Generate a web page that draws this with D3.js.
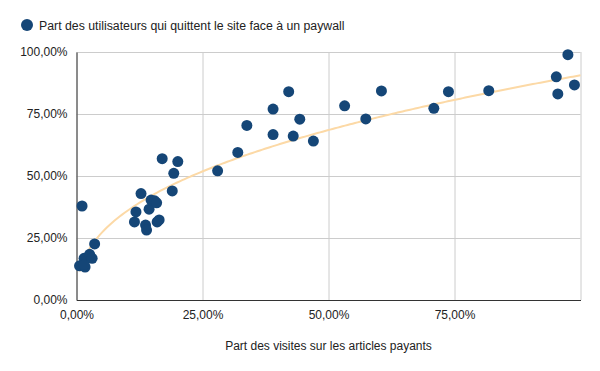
<!DOCTYPE html>
<html>
<head>
<meta charset="utf-8">
<script src="https://cdnjs.cloudflare.com/ajax/libs/d3/7.8.5/d3.min.js"></script>
<style>
  body { margin: 0; background: #fff; }
  svg { display: block; font-family: Arial, "Liberation Sans", sans-serif; }
</style>
</head>
<body>
<svg id="chart"></svg>
<script>
// part des visites sur les articles payants (x) / part des utilisateurs qui quittent (y)
var visitShare = [0.011, 0.006, 0.015, 0.017, 0.015, 0.026, 0.031, 0.036,
  0.115, 0.118, 0.128, 0.137, 0.139, 0.144, 0.148, 0.155, 0.159, 0.160, 0.164,
  0.170, 0.190, 0.193, 0.201, 0.280, 0.320, 0.338, 0.390, 0.390, 0.421, 0.430,
  0.443, 0.470, 0.532, 0.574, 0.605, 0.709, 0.738, 0.818, 0.952, 0.955, 0.975, 0.988];
var leaveShare = [0.379, 0.138, 0.168, 0.133, 0.143, 0.184, 0.168, 0.226,
  0.315, 0.355, 0.429, 0.302, 0.282, 0.366, 0.403, 0.400, 0.392, 0.315, 0.323,
  0.570, 0.440, 0.511, 0.558, 0.521, 0.595, 0.704, 0.770, 0.667, 0.840, 0.661,
  0.729, 0.641, 0.783, 0.730, 0.843, 0.773, 0.840, 0.844, 0.900, 0.831, 0.989, 0.867];
var xTicks = [0, 0.25, 0.5, 0.75];
var yTicks = [0, 0.25, 0.5, 0.75, 1];
var seriesName = 'Part des utilisateurs qui quittent le site face à un paywall';
var xTitle = 'Part des visites sur les articles payants';

var width = 600, height = 371;
var margin = {top: 52, right: 19.5, bottom: 71, left: 76.5};
var pointColor = '#154677';
var trendColor = '#fcd9a6';

var fr = d3.formatLocale({decimal: ',', thousands: '\u00a0', grouping: [3], currency: ['', ' €']});
var pct = fr.format('.2%');

var svg = d3.select('#chart')
  .attr('width', width)
  .attr('height', height);

var x = d3.scaleLinear().domain([0, 1]).range([margin.left, width - margin.right]);
var y = d3.scaleLinear().domain([0, 1]).range([height - margin.bottom, margin.top]);

// grid
svg.append('g')
  .attr('transform', 'translate(0,' + (height - margin.bottom) + ')')
  .call(d3.axisBottom(x).tickValues(xTicks.concat([1])).tickSize(-(height - margin.top - margin.bottom)).tickFormat(''))
  .call(function(g) {
    g.select('.domain').remove();
    g.selectAll('line').attr('stroke', '#cccccc');
  });
svg.append('g')
  .attr('transform', 'translate(' + margin.left + ',0)')
  .call(d3.axisLeft(y).tickValues(yTicks).tickSize(-(width - margin.left - margin.right)).tickFormat(''))
  .call(function(g) {
    g.select('.domain').remove();
    g.selectAll('line').attr('stroke', '#cccccc');
  });

// axes
svg.append('g')
  .attr('transform', 'translate(0,' + (height - margin.bottom) + ')')
  .call(d3.axisBottom(x).tickValues(xTicks).tickSize(0).tickPadding(10).tickFormat(pct))
  .call(function(g) {
    g.select('.domain').attr('stroke', '#333333');
    g.selectAll('text').attr('font-size', '12px').attr('fill', '#222222').attr('font-family', 'Arial, "Liberation Sans", sans-serif');
  });
svg.append('g')
  .attr('transform', 'translate(' + margin.left + ',0)')
  .call(d3.axisLeft(y).tickValues(yTicks).tickSize(0).tickPadding(9).tickFormat(pct))
  .call(function(g) {
    g.select('.domain').attr('stroke', '#333333');
    g.selectAll('text').attr('font-size', '12px').attr('fill', '#222222').attr('font-family', 'Arial, "Liberation Sans", sans-serif');
  });

// power trendline y = a * x^b, fitted on log-log
var pts = visitShare.map(function(v, i) { return [v, leaveShare[i]]; });
var lx = pts.map(function(p) { return Math.log(p[0]); });
var ly = pts.map(function(p) { return Math.log(p[1]); });
var mx = d3.mean(lx), my = d3.mean(ly);
var b = d3.sum(lx, function(v, i) { return (v - mx) * (ly[i] - my); }) / d3.sum(lx, function(v) { return (v - mx) * (v - mx); });
var a = Math.exp(my - b * mx);
var xs = d3.range(0, 201).map(function(i) { return d3.min(visitShare) + (1 - d3.min(visitShare)) * i / 200; });
svg.append('path')
  .datum(xs)
  .attr('fill', 'none')
  .attr('stroke', trendColor)
  .attr('stroke-width', 2)
  .attr('d', d3.line()
    .x(function(d) { return x(d); })
    .y(function(d) { return y(a * Math.pow(d, b)); }));

// points
svg.append('g')
  .selectAll('circle')
  .data(pts)
  .enter()
  .append('circle')
  .attr('cx', function(d) { return x(d[0]); })
  .attr('cy', function(d) { return y(d[1]); })
  .attr('r', 5.5)
  .attr('fill', pointColor);

// legend
svg.append('circle')
  .attr('cx', 27)
  .attr('cy', 25)
  .attr('r', 6)
  .attr('fill', pointColor);
svg.append('text')
  .attr('x', 39)
  .attr('y', 29.5)
  .attr('font-size', '12.3px')
  .attr('fill', '#222222')
  .text(seriesName);

// x title
svg.append('text')
  .attr('x', (margin.left + width - margin.right) / 2)
  .attr('y', 350)
  .attr('text-anchor', 'middle')
  .attr('font-size', '12px')
  .attr('fill', '#222222')
  .text(xTitle);
</script>
</body>
</html>
